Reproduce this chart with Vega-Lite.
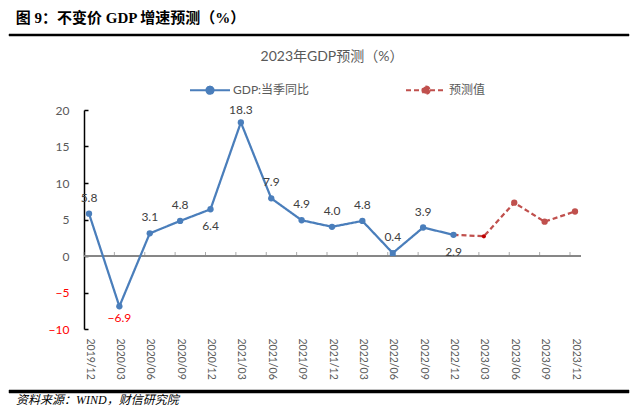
{
  "$schema": "https://vega.github.io/schema/vega-lite/v6.json",
  "background": "white",
  "padding": {"left": 8, "top": 11, "right": 4, "bottom": 2},
  "title": {"text": "图 9：不变价 GDP 增速预测（%）", "anchor": "start", "font": "'Liberation Serif', 'Noto Sans CJK SC', serif", "fontSize": 15, "fontWeight": "bold", "color": "#000000", "dx": 7, "offset": 6},
  "datasets": {
    "gdp": [
      {"date": "2019/12", "value": 5.8, "series": "GDP:当季同比"},
      {"date": "2020/03", "value": -6.9, "series": "GDP:当季同比"},
      {"date": "2020/06", "value": 3.1, "series": "GDP:当季同比"},
      {"date": "2020/09", "value": 4.8, "series": "GDP:当季同比"},
      {"date": "2020/12", "value": 6.4, "series": "GDP:当季同比"},
      {"date": "2021/03", "value": 18.3, "series": "GDP:当季同比"},
      {"date": "2021/06", "value": 7.9, "series": "GDP:当季同比"},
      {"date": "2021/09", "value": 4.9, "series": "GDP:当季同比"},
      {"date": "2021/12", "value": 4.0, "series": "GDP:当季同比"},
      {"date": "2022/03", "value": 4.8, "series": "GDP:当季同比"},
      {"date": "2022/06", "value": 0.4, "series": "GDP:当季同比"},
      {"date": "2022/09", "value": 3.9, "series": "GDP:当季同比"},
      {"date": "2022/12", "value": 2.9, "series": "GDP:当季同比"},
      {"date": "2022/12", "value": 2.9, "series": "预测值"},
      {"date": "2023/03", "value": 2.7, "series": "预测值"},
      {"date": "2023/06", "value": 7.3, "series": "预测值"},
      {"date": "2023/09", "value": 4.7, "series": "预测值"},
      {"date": "2023/12", "value": 6.1, "series": "预测值"}
    ]
  },
  "spacing": 8,
  "resolve": {"legend": {"color": "independent", "strokeDash": "independent"}},
  "vconcat": [
    {
      "width": 620,
      "height": 2,
      "data": {"values": [{}]},
      "mark": {"type": "point", "opacity": 0},
      "view": {"fill": "#000000", "stroke": "#000000", "strokeWidth": 0.5},
      "title": {"text": " ", "orient": "bottom", "fontSize": 2, "offset": 2}
    },
    {
      "width": 572,
      "height": 219,
      "data": {"name": "gdp"},
      "title": {"text": "2023年GDP预测（%）", "fontSize": 14, "fontWeight": "normal", "color": "#595959", "font": "Lato, 'Noto Sans CJK SC', sans-serif", "anchor": "middle", "dx": 37, "offset": 5},
      "encoding": {
        "x": {"field": "date", "type": "ordinal", "scale": {"type": "point", "padding": 0, "range": [80, 566], "domain": ["2019/12","2020/03","2020/06","2020/09","2020/12","2021/03","2021/06","2021/09","2021/12","2022/03","2022/06","2022/09","2022/12","2023/03","2023/06","2023/09","2023/12"]},
          "axis": {"orient": "bottom", "labelAngle": 90, "labelFontSize": 10.5, "labelColor": "#595959", "labelFont": "Lato", "labelPadding": 9, "domain": false, "ticks": false, "title": null, "grid": false}},
        "y": {"field": "value", "type": "quantitative", "scale": {"domain": [-10, 20], "nice": false},
          "axis": {"orient": "left", "offset": -75, "values": [-10, -5, 0, 5, 10, 15, 20], "domainColor": "#000000", "domainWidth": 1.5, "tickColor": "#000000", "tickSize": -4, "tickWidth": 1.5, "labelPadding": 19, "labelFontSize": 12, "labelFont": "Lato", "labelColor": {"condition": {"test": "datum.value < 0", "value": "#FF0000"}, "value": "#595959"}, "title": null, "grid": false}}
      },
      "layer": [
        {
          "mark": {"type": "rule", "color": "#868686", "strokeWidth": 1, "xOffset": -5, "x2Offset": 6},
          "encoding": {"x": {"datum": "2019/12"}, "x2": {"datum": "2023/12"}, "y": {"datum": 0}}
        },
        {
          "transform": [{"filter": "!(datum.series == '预测值' && datum.date == '2022/12')"}],
          "mark": {"type": "tick", "orient": "vertical", "size": 4, "thickness": 1, "color": "#868686", "yOffset": -2, "xOffset": -5},
          "encoding": {"y": {"datum": 0}}
        },
        {
          "mark": {"type": "line", "strokeWidth": 2.25},
          "encoding": {
            "color": {"field": "series", "type": "nominal", "scale": {"domain": ["GDP:当季同比", "预测值"], "range": ["#4A7EBB", "#C0504D"]},
              "legend": {"title": null, "orient": "none", "legendX": 180, "legendY": -41, "direction": "horizontal", "columns": 2, "columnPadding": 92, "symbolType": "M-1,0H1M0.18,0A0.18,0.18,0,1,1,-0.18,0A0.18,0.18,0,1,1,0.18,0Z", "symbolSize": 1600, "symbolStrokeWidth": 2, "labelFontSize": 12, "labelColor": "#595959", "labelFont": "Lato, 'Noto Sans CJK SC', sans-serif", "labelOffset": 2, "padding": 0}},
            "strokeDash": {"field": "series", "type": "nominal", "scale": {"domain": ["GDP:当季同比", "预测值"], "range": [[1, 0], [5, 3]]},
              "legend": {"title": null, "orient": "none", "legendX": 180, "legendY": -41, "direction": "horizontal", "columns": 2, "columnPadding": 92, "symbolType": "M-1,0H1M0.18,0A0.18,0.18,0,1,1,-0.18,0A0.18,0.18,0,1,1,0.18,0Z", "symbolSize": 1600, "symbolStrokeWidth": 2, "labelFontSize": 12, "labelColor": "#595959", "labelFont": "Lato, 'Noto Sans CJK SC', sans-serif", "labelOffset": 2, "padding": 0}}
          }
        },
        {
          "transform": [{"filter": "!(datum.series == '预测值' && datum.date == '2022/12') && datum.date != '2022/06' && datum.date != '2023/03'"}],
          "mark": {"type": "circle", "size": 40, "opacity": 1},
          "encoding": {
            "color": {"field": "series", "type": "nominal"}
          }
        },
        {
          "transform": [{"filter": "datum.date == '2022/06'"}],
          "mark": {"type": "square", "size": 36, "opacity": 1, "color": "#4A7EBB"}
        },
        {
          "transform": [{"filter": "datum.date == '2023/03'"}],
          "mark": {"type": "circle", "size": 18, "opacity": 1, "color": "#C00000"}
        },
        {
          "transform": [{"filter": "datum.series == 'GDP:当季同比' && indexof(['2020/03', '2020/12', '2022/12', '2021/03'], datum.date) < 0"}],
          "mark": {"type": "text", "dy": -16, "fontSize": 12, "font": "Lato", "color": "#404040"},
          "encoding": {
            "text": {"field": "value", "type": "quantitative", "format": ".1f"}
          }
        },
        {
          "transform": [{"filter": "datum.date == '2021/03'"}],
          "mark": {"type": "text", "dy": -12, "fontSize": 12, "font": "Lato", "color": "#404040"},
          "encoding": {
            "text": {"field": "value", "type": "quantitative", "format": ".1f"}
          }
        },
        {
          "transform": [{"filter": "datum.series == 'GDP:当季同比' && (datum.date == '2020/12' || datum.date == '2022/12')"}],
          "mark": {"type": "text", "dy": 17, "fontSize": 12, "font": "Lato", "color": "#404040"},
          "encoding": {
            "text": {"field": "value", "type": "quantitative", "format": ".1f"}
          }
        },
        {
          "transform": [{"filter": "datum.date == '2020/03'"}],
          "mark": {"type": "text", "dy": 12, "fontSize": 12, "font": "Lato", "color": "#FF0000"},
          "encoding": {
            "text": {"field": "value", "type": "quantitative", "format": ".1f"}
          }
        }
      ]
    },
    {
      "width": 620,
      "height": 3,
      "data": {"values": [{}]},
      "mark": {"type": "point", "opacity": 0},
      "view": {"fill": "#000000", "stroke": "#000000", "strokeWidth": 0.5},
      "title": {"text": "资料来源：WIND，财信研究院", "orient": "bottom", "anchor": "start", "fontSize": 12, "fontStyle": "italic", "fontWeight": "normal", "font": "'Liberation Serif', 'Noto Sans CJK SC', serif", "color": "#000000", "dx": 7, "offset": 1}
    }
  ],
  "config": {"view": {"stroke": null}}
}
